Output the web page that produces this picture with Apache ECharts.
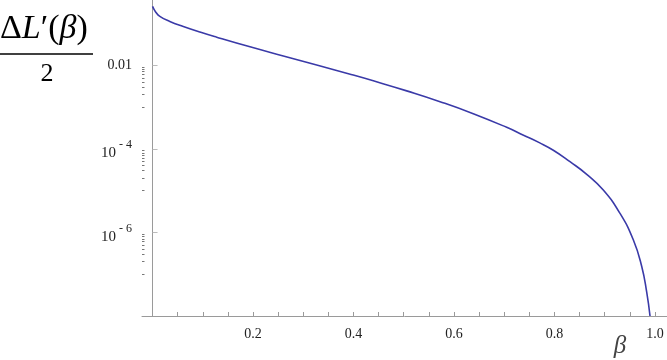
<!DOCTYPE html>
<html>
<head>
<meta charset="utf-8">
<script src="https://cdn.jsdelivr.net/npm/echarts@6/dist/echarts.min.js"></script>
<style>
  html, body { margin: 0; padding: 0; background: #fff; }
  #main { width: 667px; height: 360px; }
</style>
</head>
<body>
<div id="main"></div>
<script>
// 曲线数据
var betaVals = [0, 0.0055, 0.0145, 0.0344, 0.0612, 0.0943, 0.1277, 0.194, 0.2603, 0.3267,
  0.3916, 0.4394, 0.5059, 0.5722, 0.6384, 0.7049, 0.7373, 0.7698, 0.7977, 0.8309,
  0.8642, 0.8972, 0.9305, 0.9569, 0.9736, 0.9836, 0.9902];
var deltaVals = [0.255, 0.1936, 0.1469, 0.1117, 0.0847, 0.0622, 0.0468, 0.02748, 0.0166, 0.01009,
  0.006166, 0.004227, 0.002432, 0.001343, 6.93e-4, 3.26e-4, 2.14e-4, 1.403e-4, 9.25e-5, 4.91e-5,
  2.455e-5, 1.031e-5, 2.84e-6, 6.67e-7, 1.55e-7, 3.71e-8, 1.0e-8];

// 刻度
var xTickVals = [0.05, 0.1, 0.15, 0.2, 0.25, 0.3, 0.35, 0.4, 0.45, 0.5,
  0.55, 0.6, 0.65, 0.7, 0.75, 0.8, 0.85, 0.9, 0.95, 1.0];
var xLabelVals = [0.2, 0.4, 0.6, 0.8, 1.0];
var yLabelVals = [1e-2, 1e-4, 1e-6];
var yMinorDecades = [1e-3, 1e-5, 1e-7];
var yMinorSteps = [1, 2, 3, 4, 5, 6, 7, 8, 9];

var yMinorVals = [];
yMinorDecades.forEach(function (d) {
  yMinorSteps.forEach(function (k) { yMinorVals.push(k * d); });
});

var points = betaVals.map(function (b, i) { return [b, deltaVals[i]]; });

var axisColor = '#9a9a9a';
var serif = '"Liberation Serif", "DejaVu Serif", serif';

var myChart = echarts.init(document.getElementById('main'));
var option = {
  backgroundColor: '#fff',
  animation: false,
  grid: { left: 142, right: 0, top: 0, bottom: 44 },
  xAxis: {
    type: 'value',
    min: -0.021,
    max: 1.024,
    axisLine: { lineStyle: { color: axisColor, width: 1 } },
    axisTick: { inside: true, length: 4, customValues: xTickVals, lineStyle: { color: axisColor } },
    axisLabel: {
      customValues: xLabelVals,
      margin: 11,
      color: '#222',
      fontFamily: serif,
      fontSize: 14,
      formatter: function (v) { return v.toFixed(1); }
    },
    splitLine: { show: false }
  },
  yAxis: [{
    type: 'log',
    logBase: 10,
    min: 1e-8,
    max: 0.363,
    axisLine: { show: true, onZero: true, lineStyle: { color: axisColor, width: 1 } },
    axisTick: { show: true, inside: true, length: 5, customValues: yLabelVals, lineStyle: { color: '#bbb' } },
    axisLabel: {
      customValues: yLabelVals,
      margin: 10,
      color: '#222',
      fontFamily: serif,
      fontSize: 14,
      formatter: function (v) {
        var e = Math.round(Math.log10(v));
        if (e === -2) return '0.01';
        return '{b|10}{s| - ' + (-e) + '}';
      },
      rich: {
        b: { fontFamily: serif, fontSize: 15, color: '#222', padding: [9, 0, 0, 0] },
        s: { fontFamily: serif, fontSize: 12, color: '#222', padding: [0, 0, 8, 0] }
      }
    },
    splitLine: { show: false }
  }, {
    // 次刻度
    type: 'log',
    logBase: 10,
    min: 1e-8,
    max: 0.363,
    position: 'left',
    axisLine: { show: false, onZero: true },
    axisTick: { show: true, inside: true, length: 2.5, customValues: yMinorVals, lineStyle: { color: '#777' } },
    axisLabel: { show: false },
    splitLine: { show: false }
  }],
  series: [{
    type: 'line',
    data: points,
    showSymbol: false,
    smooth: 0.5,
    lineStyle: { color: '#3a3aa8', width: 1.6 },
    itemStyle: { color: '#3a3aa8' }
  }],
  graphic: [{
    type: 'text',
    x: 0,
    y: 12,
    style: {
      text: '{u|Δ}{i|L}{u|′(}{i|β}{u|)}',
      rich: {
        u: { fontFamily: serif, fontSize: 34, fill: '#000' },
        i: { fontFamily: serif, fontSize: 34, fontStyle: 'italic', fill: '#000' }
      }
    }
  }, {
    type: 'line',
    shape: { x1: 0, y1: 54, x2: 93, y2: 54 },
    style: { stroke: '#000', lineWidth: 1.5 }
  }, {
    type: 'text',
    x: 47,
    y: 74,
    style: { text: '2', fontFamily: serif, fontSize: 26, fill: '#000', align: 'center', verticalAlign: 'middle' }
  }, {
    type: 'text',
    x: 620,
    y: 346,
    style: { text: 'β', fontFamily: serif, fontSize: 25, fontStyle: 'italic', fill: '#444', align: 'center', verticalAlign: 'middle' }
  }]
};
myChart.setOption(option);
</script>
</body>
</html>
